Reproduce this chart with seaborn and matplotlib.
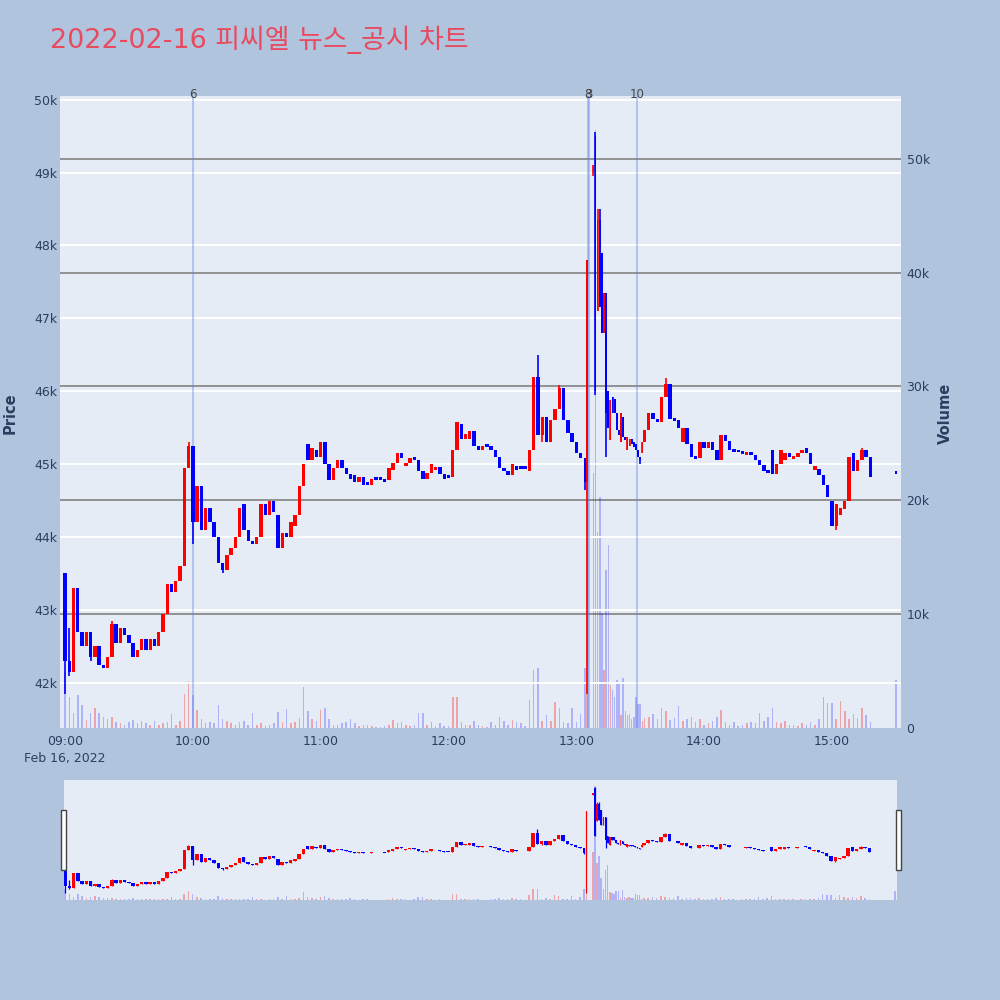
import numpy as np
import pandas as pd
import matplotlib
matplotlib.use("Agg")
import matplotlib.pyplot as plt
import matplotlib.patches as mpatches
import matplotlib.transforms as mtrans
import seaborn as sns

sns.set_theme(style="white")
plt.rcParams['font.family'] = ['DejaVu Sans', 'Noto Sans CJK KR']

TITLE = "2022-02-16 피씨엘 뉴스_공시 차트"

# ---- time axis (minutes after 09:00) ----
hour_ticks = [0, 60, 120, 180, 240, 300, 360]
hour_labels = ["09:00\nFeb 16, 2022", "10:00", "11:00", "12:00", "13:00", "14:00", "15:00"]
price_ticks = [42, 43, 44, 45, 46, 47, 48, 49, 50]
price_labels = ["42k", "43k", "44k", "45k", "46k", "47k", "48k", "49k", "50k"]
volume_ticks = [0, 10, 20, 30, 40, 50]
volume_labels = ["0", "10k", "20k", "30k", "40k", "50k"]

# news markers (minute after 09:00) and their labels
news_minutes = [60, 245.5, 245.9, 268.5]
news_labels = ["6", "8", "3", "10"]

# ---- candle data (price in thousand KRW, volume in thousand shares) ----
# morning session: 2-minute candles 09:00 .. 13:02
minutes_am = list(range(0, 243, 2))
open_am = [43.50, 42.30, 42.15, 43.30, 42.70, 42.50, 42.70, 42.35, 42.50, 42.25,
           42.20, 42.35, 42.80, 42.55, 42.75, 42.65, 42.55, 42.35, 42.45, 42.60,
           42.45, 42.60, 42.50, 42.70, 42.95, 43.35, 43.25, 43.40, 43.60, 44.95,
           45.25, 44.20, 44.70, 44.10, 44.40, 44.20, 44.00, 43.65, 43.55, 43.75,
           43.85, 44.00, 44.45, 44.10, 43.95, 43.90, 44.00, 44.45, 44.30, 44.50,
           44.30, 43.85, 44.05, 44.00, 44.15, 44.30, 44.70, 45.28, 45.05, 45.20,
           45.10, 45.30, 45.00, 44.78, 44.95, 45.05, 44.95, 44.87, 44.85, 44.75,
           44.82, 44.75, 44.72, 44.80, 44.80, 44.78, 44.78, 44.92, 45.02, 45.15,
           44.97, 45.02, 45.10, 45.05, 44.90, 44.80, 44.88, 44.93, 44.96, 44.87,
           44.85, 44.82, 45.20, 45.55, 45.35, 45.35, 45.45, 45.25, 45.20, 45.25,
           45.25, 45.20, 45.10, 44.95, 44.90, 44.85, 44.98, 44.95, 44.95, 44.90,
           45.20, 46.20, 45.40, 45.65, 45.30, 45.60, 45.75, 46.05, 45.60, 45.43,
           45.30, 45.15]
close_am = [42.30, 42.15, 43.30, 42.70, 42.50, 42.70, 42.35, 42.50, 42.25, 42.20,
            42.35, 42.80, 42.55, 42.75, 42.65, 42.55, 42.35, 42.45, 42.60, 42.45,
            42.60, 42.50, 42.70, 42.95, 43.35, 43.25, 43.40, 43.60, 44.95, 45.25,
            44.20, 44.70, 44.10, 44.40, 44.20, 44.00, 43.65, 43.55, 43.75, 43.85,
            44.00, 44.40, 44.10, 43.95, 43.90, 44.00, 44.45, 44.30, 44.50, 44.35,
            43.85, 44.05, 44.00, 44.20, 44.30, 44.70, 45.00, 45.05, 45.22, 45.10,
            45.30, 45.00, 44.78, 44.95, 45.05, 44.95, 44.87, 44.80, 44.75, 44.82,
            44.72, 44.72, 44.80, 44.80, 44.80, 44.78, 44.95, 45.02, 45.15, 45.08,
            45.02, 45.08, 45.05, 44.90, 44.80, 44.88, 45.00, 44.96, 44.87, 44.80,
            44.82, 45.20, 45.58, 45.35, 45.42, 45.45, 45.25, 45.20, 45.25, 45.25,
            45.20, 45.10, 44.95, 44.90, 44.85, 45.00, 44.92, 44.95, 44.95, 45.20,
            46.20, 45.40, 45.65, 45.30, 45.60, 45.75, 46.05, 45.60, 45.43, 45.30,
            45.15, 45.08]
vol_am = [4.9, 2.7, 1.3, 2.9, 2.0, 0.7, 1.3, 1.8, 1.3, 1.0,
          0.8, 1.0, 0.5, 0.4, 0.3, 0.5, 0.7, 0.4, 0.6, 0.4,
          0.3, 0.6, 0.3, 0.4, 0.5, 1.2, 0.3, 0.6, 3.0, 4.1,
          2.9, 1.6, 0.8, 0.4, 0.5, 0.4, 2.0, 0.8, 0.6, 0.4,
          0.3, 0.5, 0.6, 0.3, 1.3, 0.3, 0.4, 0.2, 0.3, 0.4,
          1.4, 0.5, 1.7, 0.4, 0.5, 0.9, 3.6, 1.5, 0.8, 0.6,
          1.6, 1.8, 0.8, 0.3, 0.3, 0.4, 0.5, 0.8, 0.4, 0.2,
          0.3, 0.3, 0.2, 0.1, 0.1, 0.2, 0.3, 0.7, 0.4, 0.5,
          0.3, 0.2, 0.3, 1.3, 1.3, 0.3, 0.5, 0.2, 0.4, 0.2,
          0.2, 2.7, 2.7, 0.5, 0.3, 0.3, 0.6, 0.3, 0.2, 0.1,
          0.5, 0.3, 1.0, 0.6, 0.3, 0.7, 0.5, 0.4, 0.2, 2.5,
          5.1, 5.3, 0.6, 1.1, 0.6, 2.3, 1.8, 0.5, 0.4, 1.8,
          0.5, 1.2]

# news spike: 1-minute candles 13:04 .. 13:31 (13:06-13:07 halted)
minutes_spike = [244, 245] + list(range(248, 272))
open_spike = [45.08, 44.75, 49.00, 49.50, 47.10, 48.35, 47.90, 46.80, 47.35, 46.00,
              45.33, 45.92, 45.90, 45.70, 45.47, 45.30, 45.65, 45.37, 45.20, 45.25,
              45.35, 45.30, 45.28, 45.20, 45.10, 45.15]
close_spike = [44.75, 47.80, 49.10, 46.00, 48.35, 47.15, 46.80, 47.35, 45.70, 45.50,
               45.88, 45.70, 45.70, 45.47, 45.40, 45.70, 45.37, 45.33, 45.37, 45.35,
               45.28, 45.24, 45.20, 45.10, 45.05, 45.30]
vol_spike = [5.3, 38.0, 22.4, 52.5, 17.2, 20.3, 10.1, 5.1, 13.9, 16.1,
             3.8, 3.3, 2.7, 4.2, 4.0, 1.1, 4.4, 1.5, 1.1, 1.2,
             0.8, 1.0, 2.7, 2.1, 2.1, 0.6]

# afternoon: 2-minute candles 13:32 .. 15:18
minutes_pm = list(range(272, 379, 2))
open_pm = [45.30, 45.47, 45.70, 45.62, 45.58, 45.92, 46.10, 45.62, 45.60, 45.30,
           45.50, 45.28, 45.10, 45.08, 45.30, 45.22, 45.30, 45.20, 45.06, 45.40,
           45.32, 45.20, 45.18, 45.18, 45.12, 45.17, 45.12, 45.05, 44.99, 44.92,
           45.20, 44.87, 45.00, 45.05, 45.15, 45.08, 45.10, 45.15, 45.22, 45.15,
           44.92, 44.93, 44.85, 44.72, 44.50, 44.15, 44.30, 44.38, 44.50, 45.15,
           44.90, 45.05, 45.20, 45.10]
close_pm = [45.47, 45.70, 45.62, 45.58, 45.92, 46.10, 45.62, 45.60, 45.50, 45.50,
            45.28, 45.10, 45.08, 45.30, 45.22, 45.30, 45.20, 45.06, 45.40, 45.32,
            45.20, 45.18, 45.18, 45.15, 45.17, 45.12, 45.05, 44.99, 44.90, 44.88,
            44.87, 45.00, 45.20, 45.15, 45.10, 45.10, 45.15, 45.20, 45.15, 45.00,
            44.97, 44.85, 44.72, 44.55, 44.15, 44.45, 44.40, 44.50, 45.10, 44.90,
            45.05, 45.20, 45.10, 44.82]
vol_pm = [0.9, 1.0, 1.2, 0.8, 1.8, 1.5, 0.7, 0.9, 1.9, 0.6,
          0.8, 1.0, 0.5, 0.8, 0.3, 0.4, 0.6, 1.0, 1.6, 0.5,
          0.3, 0.5, 0.2, 0.3, 0.4, 0.5, 0.4, 1.3, 0.6, 1.0,
          1.8, 0.5, 0.4, 0.6, 0.3, 0.3, 0.2, 0.4, 0.3, 0.5,
          0.3, 0.8, 2.7, 2.2, 2.2, 0.8, 2.4, 1.5, 0.8, 1.2,
          0.9, 1.8, 1.1, 0.5]

# closing auction 15:30
minutes_close = [390]
open_close = [44.89]
close_close = [44.89]
vol_close = [4.2]

# wick extremes beyond the candle body (minute -> price)
wick_high = {2: 42.75, 22: 42.85, 58: 45.30, 222: 46.50, 232: 46.09,
             249: 49.56, 250: 48.50, 251: 48.50, 282: 46.18, 374: 45.22}
wick_low = {0: 41.85, 2: 42.10, 12: 42.30, 60: 43.90, 74: 43.50, 224: 45.30,
            244: 44.65, 245: 41.85, 248: 48.95, 249: 45.95, 254: 45.10,
            270: 45.00, 362: 44.09}

# ---- assemble ----
df = pd.DataFrame({
    "minute": minutes_am + minutes_spike + minutes_pm + minutes_close,
    "open": open_am + open_spike + open_pm + open_close,
    "close": close_am + close_spike + close_pm + close_close,
    "volume": vol_am + vol_spike + vol_pm + vol_close,
    "step": [2] * len(minutes_am) + [1] * len(minutes_spike) + [2] * len(minutes_pm) + [1],
})
df["high"] = df[["open", "close"]].max(axis=1)
df["low"] = df[["open", "close"]].min(axis=1)
for m, v in wick_high.items():
    df.loc[df.minute == m, "high"] = np.maximum(df.loc[df.minute == m, "high"], v)
for m, v in wick_low.items():
    df.loc[df.minute == m, "low"] = np.minimum(df.loc[df.minute == m, "low"], v)
df["dir"] = np.where(df["close"] > df["open"], "up", "down")

UP = "#FF0000"
DOWN = "#0000FF"
BG = "#B0C4DE"
PLOT_BG = "#E5ECF6"
TXT = "#2a3f5f"

P_LIM = (41.38, 50.05)
V_LIM = (0, 55.5)


def draw(ax_p, ax_v, wick_lw, body_scale):
    # volume via seaborn histogram with one narrow bin per candle
    half = 0.36
    edges = np.sort(np.concatenate([df.minute.values - half, df.minute.values + half]))
    edges = [float(e) for e in edges]
    for d, col, a in (("up", UP, 0.3), ("down", DOWN, 0.24)):
        sub = df[df.dir == d]
        sns.histplot(x=sub["minute"].to_numpy(dtype=float),
                     weights=sub["volume"].to_numpy(dtype=float),
                     bins=edges, ax=ax_v, color=col, alpha=a, linewidth=0,
                     element="bars", fill=True, zorder=2)
    ax_v.set_xlabel("")
    ax_v.set_ylabel("")
    # candles
    colors = np.where(df.dir == "up", UP, DOWN)
    body_lo = df[["open", "close"]].min(axis=1).values
    body_h = (df["close"] - df["open"]).abs().values
    minh = 0.04
    bottoms = np.where(body_h < minh, (df.open.values + df.close.values) / 2 - minh / 2, body_lo)
    heights = np.maximum(body_h, minh)
    ax_p.vlines(df.minute, df.low, df.high, colors=colors, lw=wick_lw, zorder=3)
    ax_p.bar(df.minute, heights, bottom=bottoms, width=df.step * body_scale,
             color=colors, linewidth=0, zorder=4)


fig = plt.figure(figsize=(10, 10), dpi=100, facecolor=BG)

# main chart
ax_v = fig.add_axes([0.060, 0.272, 0.841, 0.632], facecolor=PLOT_BG)
ax_p = ax_v.twinx()
ax_p.patch.set_visible(False)
draw(ax_p, ax_v, 1.2, 0.8)

ax_v.set_xlim(-2.35, 392.4)
ax_v.set_ylim(*V_LIM)
ax_p.set_ylim(*P_LIM)

ax_v.yaxis.tick_right()
ax_p.yaxis.tick_left()
ax_v.set_yticks(volume_ticks, volume_labels)
ax_p.set_yticks(price_ticks, price_labels)
ax_v.set_xticks(hour_ticks, hour_labels)
ax_v.grid(False)
ax_p.grid(False)
ax_v.set_axisbelow(True)
for yv in volume_ticks[1:]:
    ax_v.axhline(yv, color="#8a8a8a", lw=1.3, zorder=0.5)
for yp in price_ticks:
    ax_p.axhline(yp, color="white", lw=1.4, zorder=0.6)

for a in (ax_v, ax_p):
    for s in a.spines.values():
        s.set_visible(False)
ax_v.tick_params(axis="y", which="both", length=0, labelsize=9, labelcolor=TXT, pad=4)
ax_p.tick_params(axis="y", which="both", length=0, labelsize=9, labelcolor=TXT, pad=2)
ax_v.tick_params(axis="x", length=0, labelsize=9, labelcolor=TXT, pad=5)
for lbl in ax_v.get_xticklabels():
    lbl.set_linespacing(1.4)
    lbl.set_verticalalignment("top")

# news markers
trans = mtrans.blended_transform_factory(ax_p.transData, ax_p.transAxes)
for m, lab in zip(news_minutes, news_labels):
    ax_p.axvline(m, color=(0.39, 0.51, 0.90, 0.38), lw=1.5, zorder=1)
    ax_p.text(m, 1.003, lab, transform=trans, ha="center", va="center",
              fontsize=8.5, color="#444444", clip_on=False)

fig.text(0.010, 0.587, "Price", rotation=90, ha="center", va="center",
         fontsize=10.5, fontweight="bold", color=TXT)
fig.text(0.945, 0.587, "Volume", rotation=90, ha="center", va="center",
         fontsize=10.5, fontweight="bold", color=TXT)

fig.text(0.050, 0.960, TITLE, ha="left", va="center", fontsize=19.4, color="#E84A60")

# range slider
ax_mv = fig.add_axes([0.064, 0.100, 0.833, 0.120], facecolor=PLOT_BG)
ax_mp = ax_mv.twinx()
ax_mp.patch.set_visible(False)
draw(ax_mp, ax_mv, 0.9, 0.8)
ax_mv.set_xlim(-0.5, 391)
ax_mv.set_ylim(*V_LIM)
ax_mp.set_ylim(41.31, 50.07)
for a in (ax_mv, ax_mp):
    a.set_xticks([])
    a.set_yticks([])
    a.grid(False)
    for s in a.spines.values():
        s.set_visible(False)

for x0 in (0.0605, 0.8955):
    fig.add_artist(mpatches.Rectangle((x0, 0.130), 0.0055, 0.060, transform=fig.transFigure,
                                      facecolor="white", edgecolor="#444444", lw=1.0))

fig.savefig("out.png", dpi=100, facecolor=BG)
